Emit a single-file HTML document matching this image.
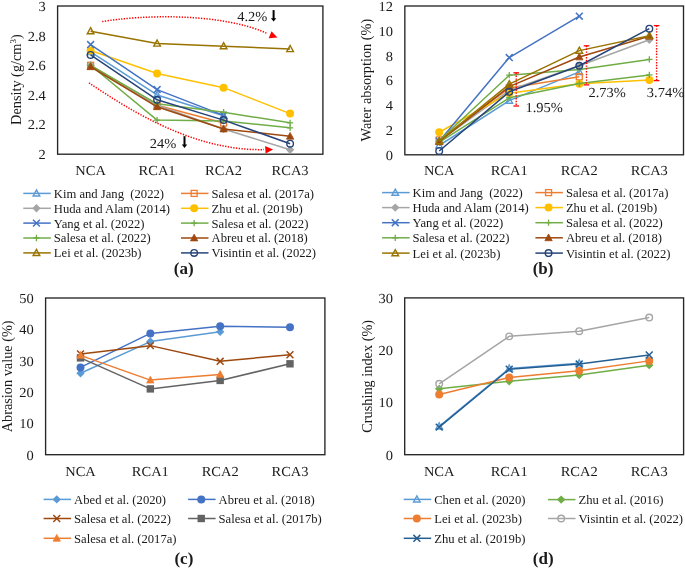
<!DOCTYPE html><html><head><meta charset="utf-8"><style>html,body{margin:0;padding:0;background:#fff;}svg{display:block;will-change:transform;}</style></head><body><svg width="685" height="568" viewBox="0 0 685 568" font-family='"Liberation Serif", serif' fill="#1a1a1a">
<rect x="57.6" y="6.0" width="265.30" height="148.20" fill="none" stroke="#262626" stroke-width="1.35"/>
<text transform="translate(45.80,159.10) scale(1.05,1)" font-size="13.8" text-anchor="end" text-rendering="geometricPrecision">2</text>
<text transform="translate(45.80,129.46) scale(1.05,1)" font-size="13.8" text-anchor="end" text-rendering="geometricPrecision">2.2</text>
<text transform="translate(45.80,99.82) scale(1.05,1)" font-size="13.8" text-anchor="end" text-rendering="geometricPrecision">2.4</text>
<text transform="translate(45.80,70.18) scale(1.05,1)" font-size="13.8" text-anchor="end" text-rendering="geometricPrecision">2.6</text>
<text transform="translate(45.80,40.54) scale(1.05,1)" font-size="13.8" text-anchor="end" text-rendering="geometricPrecision">2.8</text>
<text transform="translate(45.80,10.90) scale(1.05,1)" font-size="13.8" text-anchor="end" text-rendering="geometricPrecision">3</text>
<text transform="translate(90.60,175.40) scale(1.05,1)" font-size="13.8" text-anchor="middle" text-rendering="geometricPrecision">NCA</text>
<text transform="translate(157.10,175.40) scale(1.05,1)" font-size="13.8" text-anchor="middle" text-rendering="geometricPrecision">RCA1</text>
<text transform="translate(223.60,175.40) scale(1.05,1)" font-size="13.8" text-anchor="middle" text-rendering="geometricPrecision">RCA2</text>
<text transform="translate(290.10,175.40) scale(1.05,1)" font-size="13.8" text-anchor="middle" text-rendering="geometricPrecision">RCA3</text>
<text x="0" y="0" font-size="14.3" text-anchor="middle" transform="translate(21.0,79.60) rotate(-90)">Density (g/cm<tspan font-size="9" dy="-5">3</tspan><tspan dy="5">)</tspan></text>
<path d="M90.60,51.94L157.10,94.92L223.60,115.67" fill="none" stroke="#5B9BD5" stroke-width="1.5" stroke-linejoin="round"/>
<polygon points="90.60,48.44 93.92,54.57 87.27,54.57" fill="none" stroke="#5B9BD5" stroke-width="1.4"/>
<polygon points="157.10,91.42 160.42,97.55 153.78,97.55" fill="none" stroke="#5B9BD5" stroke-width="1.4"/>
<polygon points="223.60,112.17 226.92,118.29 220.28,118.29" fill="none" stroke="#5B9BD5" stroke-width="1.4"/>
<path d="M90.60,65.28L157.10,105.29L223.60,123.08" fill="none" stroke="#ED7D31" stroke-width="1.5" stroke-linejoin="round"/>
<rect x="87.60" y="62.28" width="6.00" height="6.00" fill="none" stroke="#ED7D31" stroke-width="1.3"/>
<rect x="154.10" y="102.29" width="6.00" height="6.00" fill="none" stroke="#ED7D31" stroke-width="1.3"/>
<rect x="220.60" y="120.08" width="6.00" height="6.00" fill="none" stroke="#ED7D31" stroke-width="1.3"/>
<path d="M90.60,65.28L157.10,105.29L223.60,129.01L290.10,149.75" fill="none" stroke="#A5A5A5" stroke-width="1.5" stroke-linejoin="round"/>
<polygon points="90.60,61.08 94.80,65.28 90.60,69.48 86.40,65.28" fill="#A5A5A5"/>
<polygon points="157.10,101.09 161.30,105.29 157.10,109.49 152.90,105.29" fill="#A5A5A5"/>
<polygon points="223.60,124.81 227.80,129.01 223.60,133.21 219.40,129.01" fill="#A5A5A5"/>
<polygon points="290.10,145.55 294.30,149.75 290.10,153.95 285.90,149.75" fill="#A5A5A5"/>
<path d="M90.60,50.46L157.10,73.43L223.60,87.66L290.10,113.59" fill="none" stroke="#FFC000" stroke-width="1.5" stroke-linejoin="round"/>
<circle cx="90.60" cy="50.46" r="3.99" fill="#FFC000"/>
<circle cx="157.10" cy="73.43" r="3.99" fill="#FFC000"/>
<circle cx="223.60" cy="87.66" r="3.99" fill="#FFC000"/>
<circle cx="290.10" cy="113.59" r="3.99" fill="#FFC000"/>
<path d="M90.60,44.53L157.10,89.58L223.60,115.37" fill="none" stroke="#4472C4" stroke-width="1.5" stroke-linejoin="round"/>
<path d="M87.17,41.10L94.03,47.96M94.03,41.10L87.17,47.96" stroke="#4472C4" stroke-width="1.5" fill="none"/>
<path d="M153.67,86.15L160.53,93.01M160.53,86.15L153.67,93.01" stroke="#4472C4" stroke-width="1.5" fill="none"/>
<path d="M220.17,111.94L227.03,118.80M227.03,111.94L220.17,118.80" stroke="#4472C4" stroke-width="1.5" fill="none"/>
<path d="M90.60,65.28L157.10,103.81L223.60,112.26L290.10,122.78" fill="none" stroke="#70AD47" stroke-width="1.5" stroke-linejoin="round"/>
<path d="M87.45,65.28L93.75,65.28M90.60,62.13L90.60,68.43" stroke="#70AD47" stroke-width="1.3" fill="none"/>
<path d="M153.95,103.81L160.25,103.81M157.10,100.66L157.10,106.96" stroke="#70AD47" stroke-width="1.3" fill="none"/>
<path d="M220.45,112.26L226.75,112.26M223.60,109.11L223.60,115.41" stroke="#70AD47" stroke-width="1.3" fill="none"/>
<path d="M286.95,122.78L293.25,122.78M290.10,119.63L290.10,125.93" stroke="#70AD47" stroke-width="1.3" fill="none"/>
<path d="M90.60,65.28L157.10,120.11L223.60,121.00L290.10,127.82" fill="none" stroke="#70AD47" stroke-width="1.5" stroke-linejoin="round"/>
<path d="M87.45,65.28L93.75,65.28M90.60,62.13L90.60,68.43" stroke="#70AD47" stroke-width="1.3" fill="none"/>
<path d="M153.95,120.11L160.25,120.11M157.10,116.96L157.10,123.26" stroke="#70AD47" stroke-width="1.3" fill="none"/>
<path d="M220.45,121.00L226.75,121.00M223.60,117.85L223.60,124.15" stroke="#70AD47" stroke-width="1.3" fill="none"/>
<path d="M286.95,127.82L293.25,127.82M290.10,124.67L290.10,130.97" stroke="#70AD47" stroke-width="1.3" fill="none"/>
<path d="M90.60,66.76L157.10,106.78L223.60,129.01L290.10,136.27" fill="none" stroke="#9E480E" stroke-width="1.5" stroke-linejoin="round"/>
<polygon points="90.60,62.91 94.26,69.65 86.94,69.65" fill="#9E480E" stroke="#9E480E" stroke-width="0.8"/>
<polygon points="157.10,102.93 160.76,109.66 153.44,109.66" fill="#9E480E" stroke="#9E480E" stroke-width="0.8"/>
<polygon points="223.60,125.16 227.26,131.89 219.94,131.89" fill="#9E480E" stroke="#9E480E" stroke-width="0.8"/>
<polygon points="290.10,132.42 293.76,139.16 286.44,139.16" fill="#9E480E" stroke="#9E480E" stroke-width="0.8"/>
<path d="M90.60,31.19L157.10,43.49L223.60,46.16L290.10,48.98" fill="none" stroke="#997300" stroke-width="1.5" stroke-linejoin="round"/>
<polygon points="90.60,27.69 93.92,33.82 87.27,33.82" fill="none" stroke="#997300" stroke-width="1.4"/>
<polygon points="157.10,39.99 160.42,46.12 153.78,46.12" fill="none" stroke="#997300" stroke-width="1.4"/>
<polygon points="223.60,42.66 226.92,48.79 220.28,48.79" fill="none" stroke="#997300" stroke-width="1.4"/>
<polygon points="290.10,45.48 293.43,51.60 286.78,51.60" fill="none" stroke="#997300" stroke-width="1.4"/>
<path d="M90.60,54.91L157.10,99.81L223.60,120.11L290.10,143.68" fill="none" stroke="#264478" stroke-width="1.5" stroke-linejoin="round"/>
<circle cx="90.60" cy="54.91" r="3.29" fill="none" stroke="#264478" stroke-width="1.4"/>
<circle cx="157.10" cy="99.81" r="3.29" fill="none" stroke="#264478" stroke-width="1.4"/>
<circle cx="223.60" cy="120.11" r="3.29" fill="none" stroke="#264478" stroke-width="1.4"/>
<circle cx="290.10" cy="143.68" r="3.29" fill="none" stroke="#264478" stroke-width="1.4"/>
<path d="M102.2,21.6 C140.2,15.1 220.2,12 267.5,33.6" fill="none" stroke="#FF0000" stroke-width="1.5" stroke-dasharray="1.35,1.4"/>
<polygon points="271.5,31.2 277.4,37.6 268.7,38.2" fill="#FF0000"/>
<path d="M89,82.8 C133.1,112.7 196.5,151.3 264,149.6" fill="none" stroke="#FF0000" stroke-width="1.5" stroke-dasharray="1.35,1.4"/>
<polygon points="265.1,146 273.1,149.5 265.6,153.6" fill="#FF0000"/>
<text transform="translate(237.20,20.80) scale(1.05,1)" font-size="13.8" text-anchor="start" text-rendering="geometricPrecision">4.2%</text>
<text transform="translate(149.80,147.60) scale(1.05,1)" font-size="13.8" text-anchor="start" text-rendering="geometricPrecision">24%</text>
<path d="M273.6,10.1L273.6,19.1" stroke="#000" stroke-width="2"/>
<polygon points="270.90000000000003,18.200000000000003 276.3,18.200000000000003 273.6,21.6" fill="#000"/>
<path d="M184.5,136.2L184.5,145.4" stroke="#000" stroke-width="2"/>
<polygon points="181.8,144.5 187.2,144.5 184.5,147.9" fill="#000"/>
<line x1="23.30" y1="193.40" x2="50.80" y2="193.40" stroke="#5B9BD5" stroke-width="1.5"/>
<polygon points="36.45,189.90 39.77,196.03 33.12,196.03" fill="none" stroke="#5B9BD5" stroke-width="1.4"/>
<text x="53.80" y="197.80" font-size="12.65" text-anchor="start" font-weight="normal" >Kim and Jang&#160; (2022)</text>
<line x1="23.30" y1="208.30" x2="50.80" y2="208.30" stroke="#A5A5A5" stroke-width="1.5"/>
<polygon points="36.45,204.10 40.65,208.30 36.45,212.50 32.25,208.30" fill="#A5A5A5"/>
<text x="53.80" y="212.70" font-size="12.65" text-anchor="start" font-weight="normal" >Huda and Alam (2014)</text>
<line x1="23.30" y1="223.10" x2="50.80" y2="223.10" stroke="#4472C4" stroke-width="1.5"/>
<path d="M33.02,219.67L39.88,226.53M39.88,219.67L33.02,226.53" stroke="#4472C4" stroke-width="1.5" fill="none"/>
<text x="53.80" y="227.50" font-size="12.65" text-anchor="start" font-weight="normal" >Yang et al. (2022)</text>
<line x1="23.30" y1="238.00" x2="50.80" y2="238.00" stroke="#70AD47" stroke-width="1.5"/>
<path d="M33.30,238.00L39.60,238.00M36.45,234.85L36.45,241.15" stroke="#70AD47" stroke-width="1.3" fill="none"/>
<text x="53.80" y="242.40" font-size="12.65" text-anchor="start" font-weight="normal" >Salesa et al. (2022)</text>
<line x1="23.30" y1="252.90" x2="50.80" y2="252.90" stroke="#997300" stroke-width="1.5"/>
<polygon points="36.45,249.40 39.77,255.53 33.12,255.53" fill="none" stroke="#997300" stroke-width="1.4"/>
<text x="53.80" y="257.30" font-size="12.65" text-anchor="start" font-weight="normal" >Lei et al. (2023b)</text>
<line x1="181.00" y1="193.40" x2="208.50" y2="193.40" stroke="#ED7D31" stroke-width="1.5"/>
<rect x="191.15" y="190.40" width="6.00" height="6.00" fill="none" stroke="#ED7D31" stroke-width="1.3"/>
<text x="211.50" y="197.80" font-size="12.65" text-anchor="start" font-weight="normal" >Salesa et al. (2017a)</text>
<line x1="181.00" y1="208.30" x2="208.50" y2="208.30" stroke="#FFC000" stroke-width="1.5"/>
<circle cx="194.15" cy="208.30" r="3.99" fill="#FFC000"/>
<text x="211.50" y="212.70" font-size="12.65" text-anchor="start" font-weight="normal" >Zhu et al. (2019b)</text>
<line x1="181.00" y1="223.10" x2="208.50" y2="223.10" stroke="#70AD47" stroke-width="1.5"/>
<path d="M191.00,223.10L197.30,223.10M194.15,219.95L194.15,226.25" stroke="#70AD47" stroke-width="1.3" fill="none"/>
<text x="211.50" y="227.50" font-size="12.65" text-anchor="start" font-weight="normal" >Salesa et al. (2022)</text>
<line x1="181.00" y1="238.00" x2="208.50" y2="238.00" stroke="#9E480E" stroke-width="1.5"/>
<polygon points="194.15,234.15 197.81,240.89 190.49,240.89" fill="#9E480E" stroke="#9E480E" stroke-width="0.8"/>
<text x="211.50" y="242.40" font-size="12.65" text-anchor="start" font-weight="normal" >Abreu et al. (2018)</text>
<line x1="181.00" y1="252.90" x2="208.50" y2="252.90" stroke="#264478" stroke-width="1.5"/>
<circle cx="194.15" cy="252.90" r="3.29" fill="none" stroke="#264478" stroke-width="1.4"/>
<text x="211.50" y="257.30" font-size="12.65" text-anchor="start" font-weight="normal" >Visintin et al. (2022)</text>
<text x="183.70" y="273.90" font-size="17" text-anchor="middle" font-weight="bold" >(a)</text>
<rect x="404.85" y="6.0" width="278.65" height="148.80" fill="none" stroke="#262626" stroke-width="1.35"/>
<text transform="translate(393.05,159.70) scale(1.05,1)" font-size="13.8" text-anchor="end" text-rendering="geometricPrecision">0</text>
<text transform="translate(393.05,134.90) scale(1.05,1)" font-size="13.8" text-anchor="end" text-rendering="geometricPrecision">2</text>
<text transform="translate(393.05,110.10) scale(1.05,1)" font-size="13.8" text-anchor="end" text-rendering="geometricPrecision">4</text>
<text transform="translate(393.05,85.30) scale(1.05,1)" font-size="13.8" text-anchor="end" text-rendering="geometricPrecision">6</text>
<text transform="translate(393.05,60.50) scale(1.05,1)" font-size="13.8" text-anchor="end" text-rendering="geometricPrecision">8</text>
<text transform="translate(393.05,35.70) scale(1.05,1)" font-size="13.8" text-anchor="end" text-rendering="geometricPrecision">10</text>
<text transform="translate(393.05,10.90) scale(1.05,1)" font-size="13.8" text-anchor="end" text-rendering="geometricPrecision">12</text>
<text transform="translate(439.20,175.10) scale(1.05,1)" font-size="13.8" text-anchor="middle" text-rendering="geometricPrecision">NCA</text>
<text transform="translate(509.25,175.10) scale(1.05,1)" font-size="13.8" text-anchor="middle" text-rendering="geometricPrecision">RCA1</text>
<text transform="translate(579.30,175.10) scale(1.05,1)" font-size="13.8" text-anchor="middle" text-rendering="geometricPrecision">RCA2</text>
<text transform="translate(649.35,175.10) scale(1.05,1)" font-size="13.8" text-anchor="middle" text-rendering="geometricPrecision">RCA3</text>
<text x="0" y="0" font-size="14.3" text-anchor="middle" transform="translate(371.2,80.10) rotate(-90)">Water absorption (%)</text>
<path d="M439.20,145.50L509.25,100.61L579.30,71.84" fill="none" stroke="#5B9BD5" stroke-width="1.5" stroke-linejoin="round"/>
<polygon points="439.20,142.00 442.52,148.12 435.88,148.12" fill="none" stroke="#5B9BD5" stroke-width="1.4"/>
<polygon points="509.25,97.11 512.58,103.24 505.93,103.24" fill="none" stroke="#5B9BD5" stroke-width="1.4"/>
<polygon points="579.30,68.34 582.62,74.47 575.97,74.47" fill="none" stroke="#5B9BD5" stroke-width="1.4"/>
<path d="M439.20,139.92L509.25,87.96L579.30,76.80" fill="none" stroke="#ED7D31" stroke-width="1.5" stroke-linejoin="round"/>
<rect x="436.20" y="136.92" width="6.00" height="6.00" fill="none" stroke="#ED7D31" stroke-width="1.3"/>
<rect x="506.25" y="84.96" width="6.00" height="6.00" fill="none" stroke="#ED7D31" stroke-width="1.3"/>
<rect x="576.30" y="73.80" width="6.00" height="6.00" fill="none" stroke="#ED7D31" stroke-width="1.3"/>
<path d="M439.20,141.16L509.25,90.32L579.30,65.77L649.35,39.73" fill="none" stroke="#A5A5A5" stroke-width="1.5" stroke-linejoin="round"/>
<polygon points="439.20,136.96 443.40,141.16 439.20,145.36 435.00,141.16" fill="#A5A5A5"/>
<polygon points="509.25,86.12 513.45,90.32 509.25,94.52 505.05,90.32" fill="#A5A5A5"/>
<polygon points="579.30,61.57 583.50,65.77 579.30,69.97 575.10,65.77" fill="#A5A5A5"/>
<polygon points="649.35,35.53 653.55,39.73 649.35,43.93 645.15,39.73" fill="#A5A5A5"/>
<path d="M439.20,132.23L509.25,93.17L579.30,83.75L649.35,80.03" fill="none" stroke="#FFC000" stroke-width="1.5" stroke-linejoin="round"/>
<circle cx="439.20" cy="132.23" r="3.99" fill="#FFC000"/>
<circle cx="509.25" cy="93.17" r="3.99" fill="#FFC000"/>
<circle cx="579.30" cy="83.75" r="3.99" fill="#FFC000"/>
<circle cx="649.35" cy="80.03" r="3.99" fill="#FFC000"/>
<path d="M439.20,141.16L509.25,57.58L579.30,16.17" fill="none" stroke="#4472C4" stroke-width="1.5" stroke-linejoin="round"/>
<path d="M435.77,137.73L442.63,144.59M442.63,137.73L435.77,144.59" stroke="#4472C4" stroke-width="1.5" fill="none"/>
<path d="M505.82,54.15L512.68,61.01M512.68,54.15L505.82,61.01" stroke="#4472C4" stroke-width="1.5" fill="none"/>
<path d="M575.87,12.74L582.73,19.60M582.73,12.74L575.87,19.60" stroke="#4472C4" stroke-width="1.5" fill="none"/>
<path d="M439.20,140.54L509.25,75.19L579.30,69.61L649.35,59.44" fill="none" stroke="#70AD47" stroke-width="1.5" stroke-linejoin="round"/>
<path d="M436.05,140.54L442.35,140.54M439.20,137.39L439.20,143.69" stroke="#70AD47" stroke-width="1.3" fill="none"/>
<path d="M506.10,75.19L512.40,75.19M509.25,72.04L509.25,78.34" stroke="#70AD47" stroke-width="1.3" fill="none"/>
<path d="M576.15,69.61L582.45,69.61M579.30,66.46L579.30,72.76" stroke="#70AD47" stroke-width="1.3" fill="none"/>
<path d="M646.20,59.44L652.50,59.44M649.35,56.29L649.35,62.59" stroke="#70AD47" stroke-width="1.3" fill="none"/>
<path d="M439.20,142.40L509.25,97.76L579.30,83.50L649.35,74.94" fill="none" stroke="#70AD47" stroke-width="1.5" stroke-linejoin="round"/>
<path d="M436.05,142.40L442.35,142.40M439.20,139.25L439.20,145.55" stroke="#70AD47" stroke-width="1.3" fill="none"/>
<path d="M506.10,97.76L512.40,97.76M509.25,94.61L509.25,100.91" stroke="#70AD47" stroke-width="1.3" fill="none"/>
<path d="M576.15,83.50L582.45,83.50M579.30,80.35L579.30,86.65" stroke="#70AD47" stroke-width="1.3" fill="none"/>
<path d="M646.20,74.94L652.50,74.94M649.35,71.79L649.35,78.09" stroke="#70AD47" stroke-width="1.3" fill="none"/>
<path d="M439.20,141.78L509.25,86.60L579.30,56.96L649.35,36.26" fill="none" stroke="#9E480E" stroke-width="1.5" stroke-linejoin="round"/>
<polygon points="439.20,137.93 442.86,144.67 435.54,144.67" fill="#9E480E" stroke="#9E480E" stroke-width="0.8"/>
<polygon points="509.25,82.75 512.91,89.49 505.59,89.49" fill="#9E480E" stroke="#9E480E" stroke-width="0.8"/>
<polygon points="579.30,53.11 582.96,59.85 575.64,59.85" fill="#9E480E" stroke="#9E480E" stroke-width="0.8"/>
<polygon points="649.35,32.41 653.01,39.14 645.69,39.14" fill="#9E480E" stroke="#9E480E" stroke-width="0.8"/>
<path d="M439.20,141.16L509.25,84.12L579.30,50.64L649.35,35.76" fill="none" stroke="#997300" stroke-width="1.5" stroke-linejoin="round"/>
<polygon points="439.20,137.66 442.52,143.78 435.88,143.78" fill="none" stroke="#997300" stroke-width="1.4"/>
<polygon points="509.25,80.62 512.58,86.75 505.93,86.75" fill="none" stroke="#997300" stroke-width="1.4"/>
<polygon points="579.30,47.14 582.62,53.27 575.97,53.27" fill="none" stroke="#997300" stroke-width="1.4"/>
<polygon points="649.35,32.26 652.67,38.39 646.02,38.39" fill="none" stroke="#997300" stroke-width="1.4"/>
<path d="M439.20,150.96L509.25,91.81L579.30,65.77L649.35,28.69" fill="none" stroke="#264478" stroke-width="1.5" stroke-linejoin="round"/>
<circle cx="439.20" cy="150.96" r="3.29" fill="none" stroke="#264478" stroke-width="1.4"/>
<circle cx="509.25" cy="91.81" r="3.29" fill="none" stroke="#264478" stroke-width="1.4"/>
<circle cx="579.30" cy="65.77" r="3.29" fill="none" stroke="#264478" stroke-width="1.4"/>
<circle cx="649.35" cy="28.69" r="3.29" fill="none" stroke="#264478" stroke-width="1.4"/>
<line x1="516.2" y1="72.8" x2="516.2" y2="106.0" stroke="#FF0000" stroke-width="1.4" stroke-dasharray="1.4,1.4"/>
<line x1="513.4000000000001" y1="72.8" x2="519.0" y2="72.8" stroke="#FF0000" stroke-width="1.3"/>
<line x1="513.4000000000001" y1="106.0" x2="519.0" y2="106.0" stroke="#FF0000" stroke-width="1.3"/>
<line x1="586.5" y1="45.8" x2="586.5" y2="84.9" stroke="#FF0000" stroke-width="1.4" stroke-dasharray="1.4,1.4"/>
<line x1="583.7" y1="45.8" x2="589.3" y2="45.8" stroke="#FF0000" stroke-width="1.3"/>
<line x1="583.7" y1="84.9" x2="589.3" y2="84.9" stroke="#FF0000" stroke-width="1.3"/>
<line x1="656.6" y1="25.6" x2="656.6" y2="80.6" stroke="#FF0000" stroke-width="1.4" stroke-dasharray="1.4,1.4"/>
<line x1="653.8000000000001" y1="25.6" x2="659.4" y2="25.6" stroke="#FF0000" stroke-width="1.3"/>
<line x1="653.8000000000001" y1="80.6" x2="659.4" y2="80.6" stroke="#FF0000" stroke-width="1.3"/>
<text transform="translate(525.40,111.80) scale(1.05,1)" font-size="13.8" text-anchor="start" text-rendering="geometricPrecision">1.95%</text>
<text transform="translate(588.40,97.00) scale(1.05,1)" font-size="13.8" text-anchor="start" text-rendering="geometricPrecision">2.73%</text>
<text transform="translate(646.80,97.00) scale(1.05,1)" font-size="13.8" text-anchor="start" text-rendering="geometricPrecision">3.74%</text>
<line x1="382.10" y1="192.60" x2="409.60" y2="192.60" stroke="#5B9BD5" stroke-width="1.5"/>
<polygon points="395.25,189.10 398.57,195.22 391.93,195.22" fill="none" stroke="#5B9BD5" stroke-width="1.4"/>
<text x="412.60" y="197.00" font-size="12.65" text-anchor="start" font-weight="normal" >Kim and Jang&#160; (2022)</text>
<line x1="382.10" y1="207.60" x2="409.60" y2="207.60" stroke="#A5A5A5" stroke-width="1.5"/>
<polygon points="395.25,203.40 399.45,207.60 395.25,211.80 391.05,207.60" fill="#A5A5A5"/>
<text x="412.60" y="212.00" font-size="12.65" text-anchor="start" font-weight="normal" >Huda and Alam (2014)</text>
<line x1="382.10" y1="222.70" x2="409.60" y2="222.70" stroke="#4472C4" stroke-width="1.5"/>
<path d="M391.82,219.27L398.68,226.13M398.68,219.27L391.82,226.13" stroke="#4472C4" stroke-width="1.5" fill="none"/>
<text x="412.60" y="227.10" font-size="12.65" text-anchor="start" font-weight="normal" >Yang et al. (2022)</text>
<line x1="382.10" y1="237.80" x2="409.60" y2="237.80" stroke="#70AD47" stroke-width="1.5"/>
<path d="M392.10,237.80L398.40,237.80M395.25,234.65L395.25,240.95" stroke="#70AD47" stroke-width="1.3" fill="none"/>
<text x="412.60" y="242.20" font-size="12.65" text-anchor="start" font-weight="normal" >Salesa et al. (2022)</text>
<line x1="382.10" y1="253.10" x2="409.60" y2="253.10" stroke="#997300" stroke-width="1.5"/>
<polygon points="395.25,249.60 398.57,255.72 391.93,255.72" fill="none" stroke="#997300" stroke-width="1.4"/>
<text x="412.60" y="257.50" font-size="12.65" text-anchor="start" font-weight="normal" >Lei et al. (2023b)</text>
<line x1="535.40" y1="192.60" x2="562.90" y2="192.60" stroke="#ED7D31" stroke-width="1.5"/>
<rect x="545.55" y="189.60" width="6.00" height="6.00" fill="none" stroke="#ED7D31" stroke-width="1.3"/>
<text x="565.90" y="197.00" font-size="12.65" text-anchor="start" font-weight="normal" >Salesa et al. (2017a)</text>
<line x1="535.40" y1="207.60" x2="562.90" y2="207.60" stroke="#FFC000" stroke-width="1.5"/>
<circle cx="548.55" cy="207.60" r="3.99" fill="#FFC000"/>
<text x="565.90" y="212.00" font-size="12.65" text-anchor="start" font-weight="normal" >Zhu et al. (2019b)</text>
<line x1="535.40" y1="222.70" x2="562.90" y2="222.70" stroke="#70AD47" stroke-width="1.5"/>
<path d="M545.40,222.70L551.70,222.70M548.55,219.55L548.55,225.85" stroke="#70AD47" stroke-width="1.3" fill="none"/>
<text x="565.90" y="227.10" font-size="12.65" text-anchor="start" font-weight="normal" >Salesa et al. (2022)</text>
<line x1="535.40" y1="237.80" x2="562.90" y2="237.80" stroke="#9E480E" stroke-width="1.5"/>
<polygon points="548.55,233.95 552.21,240.69 544.89,240.69" fill="#9E480E" stroke="#9E480E" stroke-width="0.8"/>
<text x="565.90" y="242.20" font-size="12.65" text-anchor="start" font-weight="normal" >Abreu et al. (2018)</text>
<line x1="535.40" y1="253.10" x2="562.90" y2="253.10" stroke="#264478" stroke-width="1.5"/>
<circle cx="548.55" cy="253.10" r="3.29" fill="none" stroke="#264478" stroke-width="1.4"/>
<text x="565.90" y="257.50" font-size="12.65" text-anchor="start" font-weight="normal" >Visintin et al. (2022)</text>
<text x="543.10" y="274.30" font-size="17" text-anchor="middle" font-weight="bold" >(b)</text>
<rect x="45.6" y="298.0" width="279.30" height="156.70" fill="none" stroke="#262626" stroke-width="1.35"/>
<text transform="translate(33.80,459.60) scale(1.05,1)" font-size="13.8" text-anchor="end" text-rendering="geometricPrecision">0</text>
<text transform="translate(33.80,428.26) scale(1.05,1)" font-size="13.8" text-anchor="end" text-rendering="geometricPrecision">10</text>
<text transform="translate(33.80,396.92) scale(1.05,1)" font-size="13.8" text-anchor="end" text-rendering="geometricPrecision">20</text>
<text transform="translate(33.80,365.58) scale(1.05,1)" font-size="13.8" text-anchor="end" text-rendering="geometricPrecision">30</text>
<text transform="translate(33.80,334.24) scale(1.05,1)" font-size="13.8" text-anchor="end" text-rendering="geometricPrecision">40</text>
<text transform="translate(33.80,302.90) scale(1.05,1)" font-size="13.8" text-anchor="end" text-rendering="geometricPrecision">50</text>
<text transform="translate(80.51,476.10) scale(1.05,1)" font-size="13.8" text-anchor="middle" text-rendering="geometricPrecision">NCA</text>
<text transform="translate(150.34,476.10) scale(1.05,1)" font-size="13.8" text-anchor="middle" text-rendering="geometricPrecision">RCA1</text>
<text transform="translate(220.16,476.10) scale(1.05,1)" font-size="13.8" text-anchor="middle" text-rendering="geometricPrecision">RCA2</text>
<text transform="translate(289.99,476.10) scale(1.05,1)" font-size="13.8" text-anchor="middle" text-rendering="geometricPrecision">RCA3</text>
<text x="0" y="0" font-size="14.3" text-anchor="middle" transform="translate(11.8,376.35) rotate(-90)">Abrasion value (%)</text>
<path d="M80.51,373.22L150.34,341.56L220.16,331.85" fill="none" stroke="#5B9BD5" stroke-width="1.5" stroke-linejoin="round"/>
<polygon points="80.51,369.02 84.71,373.22 80.51,377.42 76.31,373.22" fill="#5B9BD5"/>
<polygon points="150.34,337.36 154.54,341.56 150.34,345.76 146.14,341.56" fill="#5B9BD5"/>
<polygon points="220.16,327.65 224.36,331.85 220.16,336.05 215.96,331.85" fill="#5B9BD5"/>
<path d="M80.51,367.42L150.34,333.41L220.16,326.21L289.99,327.15" fill="none" stroke="#4472C4" stroke-width="1.5" stroke-linejoin="round"/>
<circle cx="80.51" cy="367.42" r="3.99" fill="#4472C4"/>
<circle cx="150.34" cy="333.41" r="3.99" fill="#4472C4"/>
<circle cx="220.16" cy="326.21" r="3.99" fill="#4472C4"/>
<circle cx="289.99" cy="327.15" r="3.99" fill="#4472C4"/>
<path d="M80.51,353.94L150.34,345.64L220.16,361.31L289.99,354.73" fill="none" stroke="#9E480E" stroke-width="1.5" stroke-linejoin="round"/>
<path d="M77.08,350.51L83.94,357.37M83.94,350.51L77.08,357.37" stroke="#9E480E" stroke-width="1.5" fill="none"/>
<path d="M146.91,342.21L153.77,349.07M153.77,342.21L146.91,349.07" stroke="#9E480E" stroke-width="1.5" fill="none"/>
<path d="M216.73,357.88L223.59,364.74M223.59,357.88L216.73,364.74" stroke="#9E480E" stroke-width="1.5" fill="none"/>
<path d="M286.56,351.30L293.42,358.16M293.42,351.30L286.56,358.16" stroke="#9E480E" stroke-width="1.5" fill="none"/>
<path d="M80.51,357.86L150.34,388.89L220.16,380.42L289.99,363.81" fill="none" stroke="#636363" stroke-width="1.5" stroke-linejoin="round"/>
<rect x="76.81" y="354.16" width="7.40" height="7.40" fill="#636363"/>
<rect x="146.64" y="385.19" width="7.40" height="7.40" fill="#636363"/>
<rect x="216.46" y="376.72" width="7.40" height="7.40" fill="#636363"/>
<rect x="286.29" y="360.11" width="7.40" height="7.40" fill="#636363"/>
<path d="M80.51,355.35L150.34,380.11L220.16,374.47" fill="none" stroke="#ED7D31" stroke-width="1.5" stroke-linejoin="round"/>
<polygon points="80.51,351.50 84.17,358.24 76.85,358.24" fill="#ED7D31" stroke="#ED7D31" stroke-width="0.8"/>
<polygon points="150.34,376.26 153.99,383.00 146.68,383.00" fill="#ED7D31" stroke="#ED7D31" stroke-width="0.8"/>
<polygon points="220.16,370.62 223.82,377.36 216.50,377.36" fill="#ED7D31" stroke="#ED7D31" stroke-width="0.8"/>
<line x1="43.60" y1="499.40" x2="71.10" y2="499.40" stroke="#5B9BD5" stroke-width="1.5"/>
<polygon points="56.75,495.20 60.95,499.40 56.75,503.60 52.55,499.40" fill="#5B9BD5"/>
<text x="74.10" y="503.80" font-size="12.65" text-anchor="start" font-weight="normal" >Abed et al. (2020)</text>
<line x1="43.60" y1="518.50" x2="71.10" y2="518.50" stroke="#9E480E" stroke-width="1.5"/>
<path d="M53.32,515.07L60.18,521.93M60.18,515.07L53.32,521.93" stroke="#9E480E" stroke-width="1.5" fill="none"/>
<text x="74.10" y="522.90" font-size="12.65" text-anchor="start" font-weight="normal" >Salesa et al. (2022)</text>
<line x1="43.60" y1="538.30" x2="71.10" y2="538.30" stroke="#ED7D31" stroke-width="1.5"/>
<polygon points="56.75,534.45 60.41,541.19 53.09,541.19" fill="#ED7D31" stroke="#ED7D31" stroke-width="0.8"/>
<text x="74.10" y="542.70" font-size="12.65" text-anchor="start" font-weight="normal" >Salesa et al. (2017a)</text>
<line x1="188.10" y1="499.40" x2="215.60" y2="499.40" stroke="#4472C4" stroke-width="1.5"/>
<circle cx="201.25" cy="499.40" r="3.99" fill="#4472C4"/>
<text x="218.60" y="503.80" font-size="12.65" text-anchor="start" font-weight="normal" >Abreu et al. (2018)</text>
<line x1="188.10" y1="518.50" x2="215.60" y2="518.50" stroke="#636363" stroke-width="1.5"/>
<rect x="197.55" y="514.80" width="7.40" height="7.40" fill="#636363"/>
<text x="218.60" y="522.90" font-size="12.65" text-anchor="start" font-weight="normal" >Salesa et al. (2017b)</text>
<text x="183.90" y="563.80" font-size="17" text-anchor="middle" font-weight="bold" >(c)</text>
<rect x="404.7" y="297.9" width="278.90" height="156.80" fill="none" stroke="#262626" stroke-width="1.35"/>
<text transform="translate(392.90,459.60) scale(1.05,1)" font-size="13.8" text-anchor="end" text-rendering="geometricPrecision">0</text>
<text transform="translate(392.90,407.33) scale(1.05,1)" font-size="13.8" text-anchor="end" text-rendering="geometricPrecision">10</text>
<text transform="translate(392.90,355.07) scale(1.05,1)" font-size="13.8" text-anchor="end" text-rendering="geometricPrecision">20</text>
<text transform="translate(392.90,302.80) scale(1.05,1)" font-size="13.8" text-anchor="end" text-rendering="geometricPrecision">30</text>
<text transform="translate(439.20,476.00) scale(1.05,1)" font-size="13.8" text-anchor="middle" text-rendering="geometricPrecision">NCA</text>
<text transform="translate(509.20,476.00) scale(1.05,1)" font-size="13.8" text-anchor="middle" text-rendering="geometricPrecision">RCA1</text>
<text transform="translate(579.20,476.00) scale(1.05,1)" font-size="13.8" text-anchor="middle" text-rendering="geometricPrecision">RCA2</text>
<text transform="translate(649.20,476.00) scale(1.05,1)" font-size="13.8" text-anchor="middle" text-rendering="geometricPrecision">RCA3</text>
<text x="0" y="0" font-size="14.3" text-anchor="middle" transform="translate(371.5,376.30) rotate(-90)">Crushing index (%)</text>
<path d="M439.20,426.32L509.20,368.46L579.20,363.23" fill="none" stroke="#5B9BD5" stroke-width="1.5" stroke-linejoin="round"/>
<polygon points="439.20,422.82 442.52,428.94 435.88,428.94" fill="none" stroke="#5B9BD5" stroke-width="1.4"/>
<polygon points="509.20,364.96 512.52,371.08 505.88,371.08" fill="none" stroke="#5B9BD5" stroke-width="1.4"/>
<polygon points="579.20,359.73 582.53,365.86 575.88,365.86" fill="none" stroke="#5B9BD5" stroke-width="1.4"/>
<path d="M439.20,388.84L509.20,381.32L579.20,375.05L649.20,365.17" fill="none" stroke="#70AD47" stroke-width="1.5" stroke-linejoin="round"/>
<polygon points="439.20,384.64 443.40,388.84 439.20,393.04 435.00,388.84" fill="#70AD47"/>
<polygon points="509.20,377.12 513.40,381.32 509.20,385.52 505.00,381.32" fill="#70AD47"/>
<polygon points="579.20,370.85 583.40,375.05 579.20,379.25 575.00,375.05" fill="#70AD47"/>
<polygon points="649.20,360.97 653.40,365.17 649.20,369.37 645.00,365.17" fill="#70AD47"/>
<path d="M439.20,394.59L509.20,377.55L579.20,370.86L649.20,360.88" fill="none" stroke="#ED7D31" stroke-width="1.5" stroke-linejoin="round"/>
<circle cx="439.20" cy="394.59" r="3.99" fill="#ED7D31"/>
<circle cx="509.20" cy="377.55" r="3.99" fill="#ED7D31"/>
<circle cx="579.20" cy="370.86" r="3.99" fill="#ED7D31"/>
<circle cx="649.20" cy="360.88" r="3.99" fill="#ED7D31"/>
<path d="M439.20,383.83L509.20,336.37L579.20,331.14L649.20,317.60" fill="none" stroke="#A5A5A5" stroke-width="1.5" stroke-linejoin="round"/>
<circle cx="439.20" cy="383.83" r="3.29" fill="none" stroke="#A5A5A5" stroke-width="1.4"/>
<circle cx="509.20" cy="336.37" r="3.29" fill="none" stroke="#A5A5A5" stroke-width="1.4"/>
<circle cx="579.20" cy="331.14" r="3.29" fill="none" stroke="#A5A5A5" stroke-width="1.4"/>
<circle cx="649.20" cy="317.60" r="3.29" fill="none" stroke="#A5A5A5" stroke-width="1.4"/>
<path d="M439.20,427.10L509.20,369.24L579.20,364.07L649.20,354.98" fill="none" stroke="#255E91" stroke-width="1.5" stroke-linejoin="round"/>
<path d="M435.77,423.67L442.63,430.53M442.63,423.67L435.77,430.53" stroke="#255E91" stroke-width="1.5" fill="none"/>
<path d="M505.77,365.81L512.63,372.67M512.63,365.81L505.77,372.67" stroke="#255E91" stroke-width="1.5" fill="none"/>
<path d="M575.77,360.64L582.63,367.50M582.63,360.64L575.77,367.50" stroke="#255E91" stroke-width="1.5" fill="none"/>
<path d="M645.77,351.55L652.63,358.41M652.63,351.55L645.77,358.41" stroke="#255E91" stroke-width="1.5" fill="none"/>
<line x1="403.70" y1="499.40" x2="431.20" y2="499.40" stroke="#5B9BD5" stroke-width="1.5"/>
<polygon points="416.85,495.90 420.17,502.02 413.52,502.02" fill="none" stroke="#5B9BD5" stroke-width="1.4"/>
<text x="434.20" y="503.80" font-size="12.65" text-anchor="start" font-weight="normal" >Chen et al. (2020)</text>
<line x1="403.70" y1="518.50" x2="431.20" y2="518.50" stroke="#ED7D31" stroke-width="1.5"/>
<circle cx="416.85" cy="518.50" r="3.99" fill="#ED7D31"/>
<text x="434.20" y="522.90" font-size="12.65" text-anchor="start" font-weight="normal" >Lei et al. (2023b)</text>
<line x1="403.70" y1="538.30" x2="431.20" y2="538.30" stroke="#255E91" stroke-width="1.5"/>
<path d="M413.42,534.87L420.28,541.73M420.28,534.87L413.42,541.73" stroke="#255E91" stroke-width="1.5" fill="none"/>
<text x="434.20" y="542.70" font-size="12.65" text-anchor="start" font-weight="normal" >Zhu et al. (2019b)</text>
<line x1="548.00" y1="499.60" x2="575.50" y2="499.60" stroke="#70AD47" stroke-width="1.5"/>
<polygon points="561.15,495.40 565.35,499.60 561.15,503.80 556.95,499.60" fill="#70AD47"/>
<text x="578.50" y="504.00" font-size="12.65" text-anchor="start" font-weight="normal" >Zhu et al. (2016)</text>
<line x1="548.00" y1="518.50" x2="575.50" y2="518.50" stroke="#A5A5A5" stroke-width="1.5"/>
<circle cx="561.15" cy="518.50" r="3.29" fill="none" stroke="#A5A5A5" stroke-width="1.4"/>
<text x="578.50" y="522.90" font-size="12.65" text-anchor="start" font-weight="normal" >Visintin et al. (2022)</text>
<text x="543.20" y="564.30" font-size="17" text-anchor="middle" font-weight="bold" >(d)</text>
</svg></body></html>
